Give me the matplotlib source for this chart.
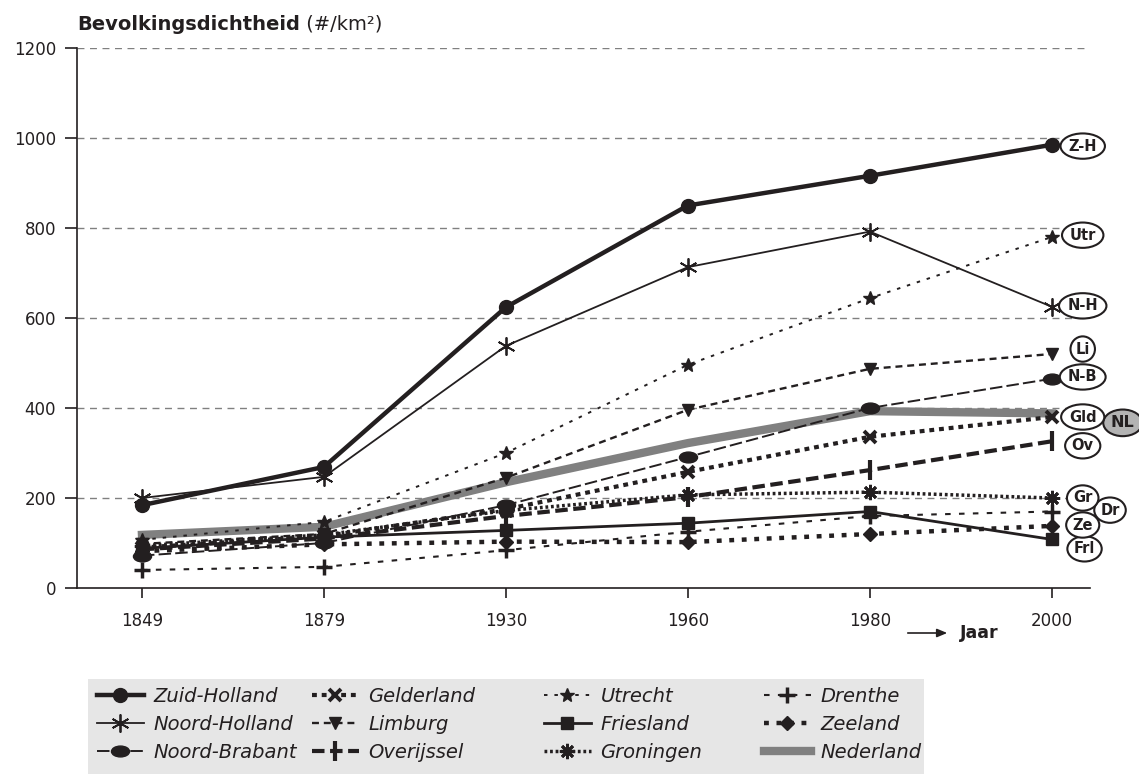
import matplotlib.pyplot as plt
from matplotlib.path import Path
from matplotlib.patches import FancyArrowPatch, Rectangle
from matplotlib.transforms import Affine2D

plt.rcParams['font.family'] = ['DejaVu Sans']
plt.rcParams['lines.scale_dashes'] = False

INK = '#231f20'

years = ['1849', '1879', '1930', '1960', '1980', '2000']

# bevolkingsdichtheid per provincie (#/km2)
zuid_holland = [184, 269, 624, 850, 916, 985]
noord_holland = [200, 247, 538, 713, 792, 625]
noord_brabant = [72, 100, 184, 291, 400, 465]
gelderland = [90, 115, 175, 258, 336, 380]
limburg = [98, 120, 245, 396, 487, 520]
overijssel = [86, 110, 160, 202, 262, 326]
utrecht = [107, 147, 300, 496, 644, 780]
friesland = [88, 113, 128, 144, 170, 108]
groningen = [94, 118, 172, 207, 213, 200]
drenthe = [40, 47, 84, 125, 160, 170]
zeeland = [82, 97, 103, 102, 120, 138]
nederland = [118, 136, 235, 322, 393, 388]

# korte labels rechts: tekst, x-index, y-waarde
tag_text = ['Z-H', 'Utr', 'N-H', 'Li', 'N-B', 'Gld', 'Ov', 'Gr', 'Dr', 'Ze', 'Frl']
tag_x = [5.17, 5.17, 5.17, 5.17, 5.17, 5.17, 5.17, 5.17, 5.32, 5.17, 5.18]
tag_y = [982, 784, 627, 531, 469, 380, 316, 200, 173, 140, 87]

ellipse = Path.unit_circle().transformed(Affine2D().scale(1.0, 0.6))

fig = plt.figure(figsize=(11.39, 7.74), dpi=100)
ax = fig.add_axes([77 / 1139, 1 - 588 / 774, (1090 - 77) / 1139, 540 / 774])

x = list(range(len(years)))

series = [
    ('Nederland', nederland, dict(color='#808080', lw=6, zorder=2)),
    ('Drenthe', drenthe, dict(lw=1.5, dashes=(4, 6), marker='+', ms=11, mew=2.5)),
    ('Zeeland', zeeland, dict(lw=3.2, dashes=(3.5, 5.5), marker='D', ms=7.5)),
    ('Friesland', friesland, dict(lw=2, marker='s', ms=8.5)),
    ('Groningen', groningen, dict(lw=2.5, dashes=(2, 2), marker=(8, 2, 0), ms=11, mew=2)),
    ('Overijssel', overijssel, dict(lw=3, dashes=(9, 4), marker='|', ms=14, mew=3)),
    ('Gelderland', gelderland, dict(lw=3, dashes=(3.5, 3.5), marker='x', ms=8, mew=2.8)),
    ('Noord-Brabant', noord_brabant, dict(lw=1.4, dashes=(9, 3), marker=ellipse, ms=13)),
    ('Limburg', limburg, dict(lw=1.7, dashes=(5, 3.5), marker='v', ms=9)),
    ('Utrecht', utrecht, dict(lw=1.4, dashes=(2.5, 5), marker='*', ms=10)),
    ('Noord-Holland', noord_holland, dict(lw=1.3, marker=(6, 2, 0), ms=13, mew=1.3)),
    ('Zuid-Holland', zuid_holland, dict(lw=3.2, marker='o', ms=10)),
]

handles = {}
for name, vals, kw in series:
    kw.setdefault('color', INK)
    kw.setdefault('zorder', 3)
    line, = ax.plot(x, vals, label=name, **kw)
    handles[name] = line

ax.set_xlim(-0.357, 5.21)
ax.set_ylim(0, 1200)
ax.set_xticks(x)
ax.set_xticklabels(years)
ax.set_yticks(range(0, 1201, 200))
ax.tick_params(axis='x', length=7, width=1.2, color=INK, labelsize=12, pad=10, labelcolor=INK)
ax.tick_params(axis='y', length=9, width=1.2, color=INK, labelsize=12, pad=6, labelcolor=INK)
for s in ['top', 'right']:
    ax.spines[s].set_visible(False)
for s in ['left', 'bottom']:
    ax.spines[s].set_color(INK)
    ax.spines[s].set_linewidth(1.2)

for v in range(200, 1201, 200):
    ax.axhline(v, color='#808080', lw=1, dashes=(5, 4), zorder=1)

# labels aan het eind van de lijnen
ax.text(5.39, 367, 'NL', ha='center', va='center', fontsize=11.5, fontweight='bold',
        color=INK, clip_on=False, zorder=4,
        bbox=dict(boxstyle='ellipse,pad=0.12', fc='#b3b3b3', ec=INK, lw=1.5))
for t, tx, ty in zip(tag_text, tag_x, tag_y):
    z = 4 if t in ('Dr', 'Frl') else 5
    ax.text(tx, ty, t, ha='center', va='center', fontsize=10.5, fontweight='bold',
            color=INK, clip_on=False, zorder=z,
            bbox=dict(boxstyle='ellipse,pad=0.1', fc='white', ec=INK, lw=1.5))

# titel
t1 = fig.text(77 / 1139, 1 - 30 / 774, 'Bevolkingsdichtheid', fontsize=14,
              fontweight='bold', color=INK, va='baseline')
ax.annotate(' (#/km²)', xy=(1, 0), xycoords=t1, va='bottom', fontsize=14, color=INK,
            annotation_clip=False)

# x-as label met pijl
fig.patches.append(FancyArrowPatch(
    (905 / 1139, 1 - 633 / 774), (950 / 1139, 1 - 633 / 774), transform=fig.transFigure,
    arrowstyle='-|>,head_length=6,head_width=2.5', color=INK, lw=1.2, mutation_scale=1))
fig.text(960 / 1139, 1 - 633 / 774, 'Jaar', fontsize=12.5, fontweight='bold',
         color=INK, va='center')

# legenda: grijs vlak met vier kolommen
fig.patches.append(Rectangle((88 / 1139, 0), (924 - 88) / 1139, (774 - 679) / 774,
                             transform=fig.transFigure, fc='#e6e6e6', ec='none', zorder=0))
columns = [['Zuid-Holland', 'Noord-Holland', 'Noord-Brabant'],
           ['Gelderland', 'Limburg', 'Overijssel'],
           ['Utrecht', 'Friesland', 'Groningen'],
           ['Drenthe', 'Zeeland', 'Nederland']]
col_left = [97, 312, 544, 764]
for names, left in zip(columns, col_left):
    leg = fig.legend([handles[n] for n in names], names, loc='upper left',
                     bbox_to_anchor=(left / 1139, 1 - 687 / 774), borderaxespad=0,
                     borderpad=0, frameon=False, handlelength=2.4, handletextpad=0.5,
                     labelspacing=0.45, numpoints=1, prop=dict(style='italic', size=14))
    for txt in leg.get_texts():
        txt.set_color(INK)

fig.savefig('out.png', dpi=100)
